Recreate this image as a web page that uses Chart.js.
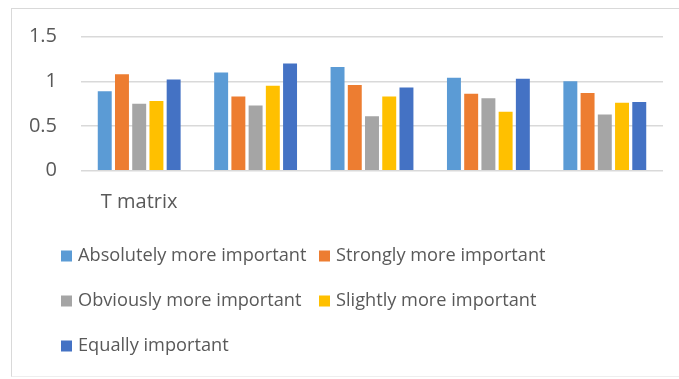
<!DOCTYPE html>
<html>
<head>
<meta charset="utf-8">
<script src="https://cdn.jsdelivr.net/npm/chart.js@4"></script>
<style>
  html, body { margin: 0; padding: 0; background: #fff; }
  #wrap { position: relative; width: 679px; height: 379px; }
  #frame { position: absolute; left: 11px; top: 8px; width: 700px; height: 369px;
           border-left: 1px solid #d9d9d9; border-top: 1px solid #d9d9d9; border-bottom: 1px solid #eeeeee; box-sizing: border-box; }
  canvas { position: absolute; left: 0; top: 0; }
</style>
</head>
<body>
<div id="wrap">
  <div id="frame"></div>
  <canvas id="c" width="679" height="379"></canvas>
</div>
<script>
const categories = ["T matrix", "", "", "", ""];
const seriesNames = ["Absolutely more important", "Strongly more important", "Obviously more important", "Slightly more important", "Equally important"];
const absolutely = [0.89, 1.10, 1.16, 1.04, 1.00];
const strongly   = [1.08, 0.83, 0.96, 0.86, 0.87];
const obviously  = [0.75, 0.73, 0.61, 0.81, 0.63];
const slightly   = [0.78, 0.95, 0.83, 0.66, 0.76];
const equally    = [1.02, 1.20, 0.93, 1.03, 0.77];
const yTicks = [0, 0.5, 1, 1.5];
const yTickLabels = ["0", "0.5", "1", "1.5"];
const colors = ["#5B9BD5", "#ED7D31", "#A5A5A5", "#FFC000", "#4472C4"];

const FONT = "'Open Sans', 'Liberation Sans', sans-serif";
const TEXT = "#595959";

const legendPlugin = {
  id: 'gridLegend',
  afterDraw(chart) {
    const ctx = chart.ctx;
    const cols = [61, 319];
    const rows = [256, 301, 346];
    ctx.save();
    ctx.font = "18.2px " + FONT;
    ctx.textBaseline = 'middle';
    ctx.textAlign = 'left';
    chart.data.datasets.forEach((ds, i) => {
      const x = cols[i % 2], y = rows[Math.floor(i / 2)];
      ctx.fillStyle = ds.backgroundColor;
      ctx.fillRect(x, y - 5.5, 11, 11);
      ctx.fillStyle = TEXT;
      ctx.fillText(ds.label, x + 17, y);
    });
    ctx.restore();
  }
};

const seriesValues = [absolutely, strongly, obviously, slightly, equally];
new Chart(document.getElementById('c'), {
  type: 'bar',
  data: {
    labels: categories,
    datasets: seriesNames.map((n, i) => ({
      label: n,
      data: seriesValues[i],
      backgroundColor: colors[i],
      borderWidth: 0,
      categoryPercentage: 0.74,
      barPercentage: 0.81
    }))
  },
  options: {
    responsive: false,
    animation: false,
    devicePixelRatio: 1,
    layout: { padding: { left: 0, right: 16, top: 36.7, bottom: 158.3 } },
    plugins: { legend: { display: false }, tooltip: { enabled: false } },
    scales: {
      x: {
        grid: { display: false, drawTicks: false },
        border: { display: false },
        ticks: { color: TEXT, font: { family: FONT, size: 20 }, padding: 20, maxRotation: 0, autoSkip: false },
        afterFit(s) { s.height = 50; }
      },
      y: {
        min: 0, max: 1.5,
        afterBuildTicks(s) { s.ticks = yTicks.map(v => ({ value: v })); },
        grid: { color: '#d9d9d9', lineWidth: 1.5, drawTicks: false },
        border: { display: false },
        ticks: { color: TEXT, font: { family: FONT, size: 20 }, padding: 24,
                 callback: (v) => yTickLabels[yTicks.indexOf(v)] },
        afterFit(s) { s.width = 81; }
      }
    }
  },
  plugins: [legendPlugin]
});
</script>
</body>
</html>
